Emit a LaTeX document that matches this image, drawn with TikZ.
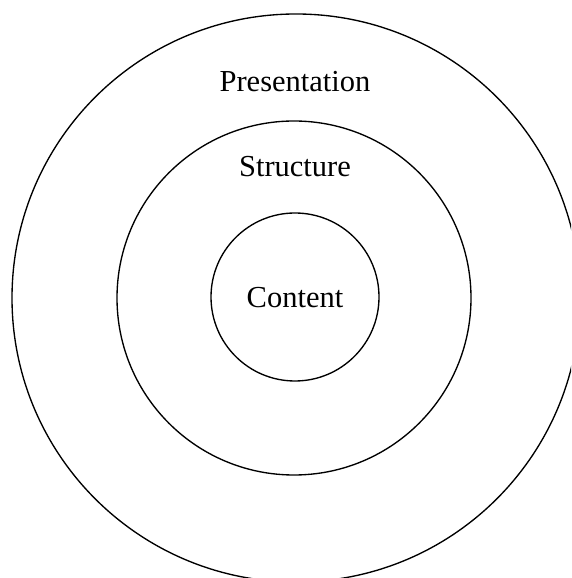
\documentclass[tikz,border=0pt]{standalone}
\usepackage{fontspec}
\setmainfont{Liberation Serif}
\begin{document}
\begin{tikzpicture}[x=1pt,y=1pt,
  ring/.style={circle, draw=black, line width=1.35pt, inner sep=0pt, fill=none},
  lbl/.style={anchor=base, inner sep=0pt, font=\fontsize{30.5}{36}\selectfont}]
\useasboundingbox (0,0) rectangle (571,578);
\fill[white] (0,0) rectangle (571,578);
\clip (0,0) rectangle (571,578);
\node[ring, minimum size=568pt] (outer) at (296,280) {};
\node[ring, minimum size=354pt] (middle) at (294,280) {};
\node[ring, minimum size=168pt] (inner) at (295,281) {};
\node[lbl] (pres) at (295,486) {Presentation};
\node[lbl] (struct) at (295,401) {Structure};
\node[lbl] (cont) at (295,270) {Content};
\end{tikzpicture}
\end{document}
